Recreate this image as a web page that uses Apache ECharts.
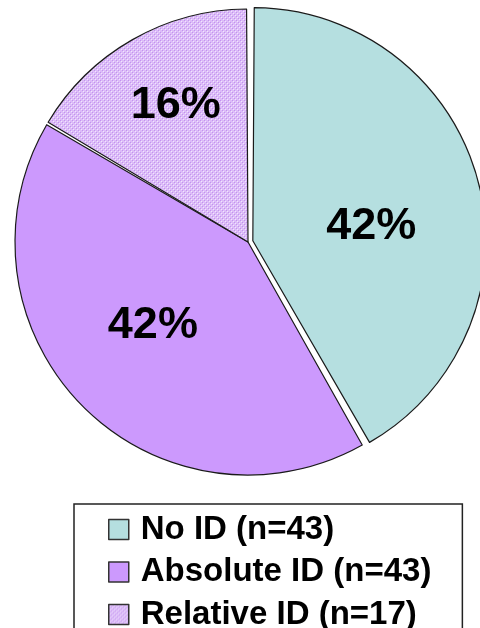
<!DOCTYPE html>
<html>
<head>
<meta charset="utf-8">
<script src="https://cdn.jsdelivr.net/npm/echarts@6/dist/echarts.min.js"></script>
<style>
  html, body { margin: 0; padding: 0; background: #fff; }
  #chart { width: 480px; height: 628px; }
</style>
</head>
<body>
<div id="chart"></div>
<script>
// Identification outcome counts
const categories = ['No ID (n=43)', 'Absolute ID (n=43)', 'Relative ID (n=17)'];
const counts = [43, 43, 17];

// Dotted lavender fill for the "Relative ID" slice
function makeDotPattern() {
  const c = document.createElement('canvas');
  c.width = 4; c.height = 4;
  const ctx = c.getContext('2d');
  ctx.fillStyle = '#dcbcf8';
  ctx.fillRect(0, 0, 4, 4);
  ctx.fillStyle = '#c293ee';
  ctx.fillRect(0, 0, 1, 1);
  ctx.fillRect(2, 2, 1, 1);
  ctx.fillStyle = '#f1e6fd';
  ctx.fillRect(1, 1, 1, 1);
  ctx.fillRect(3, 3, 1, 1);
  return c;
}

const fills = ['#b5dfe0', '#cc99fd', { image: makeDotPattern(), repeat: 'repeat' }];
const labelShift = [[3, 17], [-10, 0], [-13, -33]];

const chart = echarts.init(document.getElementById('chart'), null, { renderer: 'canvas' });
chart.setOption({
  backgroundColor: '#ffffff',
  animation: false,
  legend: {
    orient: 'vertical',
    left: 74,
    top: 504,
    height: 200,
    data: categories,
    icon: 'rect',
    itemWidth: 20,
    itemHeight: 20,
    itemGap: 9.5,
    padding: [9, 31, 30, 34],
    borderColor: '#222',
    borderWidth: 1.5,
    borderRadius: 0,
    selectedMode: false,
    itemStyle: { borderColor: '#333', borderWidth: 1.5 },
    textStyle: {
      fontFamily: 'Liberation Sans, Arial, sans-serif',
      fontWeight: 'bold',
      fontSize: 33,
      color: '#000',
      lineHeight: 30,
      padding: [0, 0, 0, 7]
    }
  },
  series: [{
    type: 'pie',
    center: [248, 242],
    radius: 233,
    startAngle: 90,
    clockwise: true,
    padAngle: 0.7,
    percentPrecision: 0,
    selectedMode: 'single',
    selectedOffset: 5,
    avoidLabelOverlap: false,
    emphasis: { disabled: true },
    itemStyle: { borderColor: '#1a1a1a', borderWidth: 1.2 },
    label: {
      show: true,
      position: 'inside',
      formatter: '{d}%',
      fontFamily: 'Liberation Sans, Arial, sans-serif',
      fontWeight: 'bold',
      fontSize: 45,
      color: '#000'
    },
    labelLine: { show: false },
    labelLayout: function (p) {
      const s = labelShift[p.dataIndex];
      return { dx: s[0], dy: s[1] };
    },
    data: categories.map((name, i) => ({
      name: name,
      value: counts[i],
      selected: i === 0,
      itemStyle: { color: fills[i] },
      select: { itemStyle: { color: fills[i], borderColor: '#1a1a1a', borderWidth: 1.2 } }
    }))
  }]
});
</script>
</body>
</html>
